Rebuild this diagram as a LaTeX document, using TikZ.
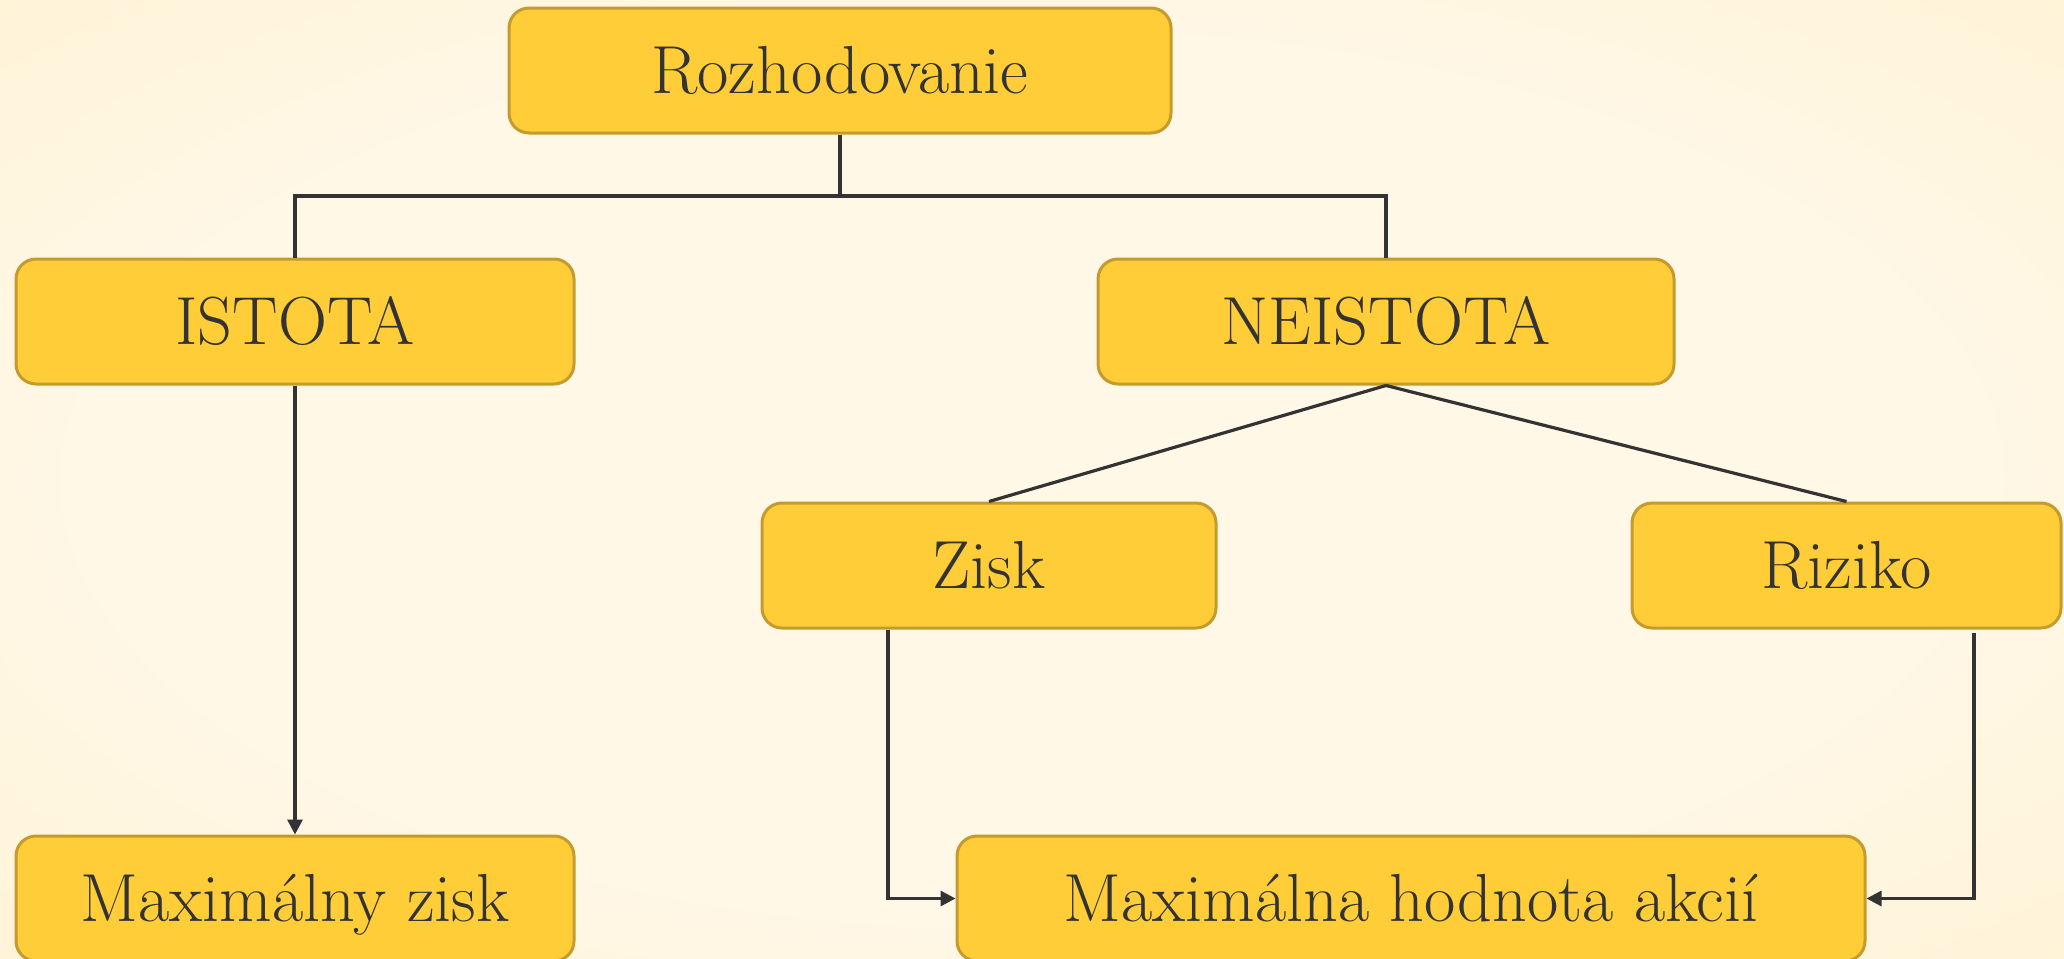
\documentclass[tikz,border=0pt]{standalone}
\usetikzlibrary{arrows.meta}
\definecolor{bgin}{HTML}{FFF8E7}
\definecolor{bgout}{HTML}{FEEFC8}
\definecolor{boxfill}{HTML}{FFCD38}
\definecolor{boxline}{HTML}{C49B2C}
\definecolor{ink}{HTML}{333333}
\pgfdeclareradialshading{bgshade}{\pgfpoint{0bp}{0bp}}{color(0bp)=(bgin); color(22bp)=(bgin); color(50bp)=(bgout)}
\tikzset{
  box/.style={draw=boxline, line width=1.5pt, fill=boxfill, rounded corners=10pt,
    minimum height=62.5pt, inner sep=0pt, text=ink,
    font=\fontsize{34}{40}\selectfont, text height=23.2pt, text depth=0pt},
  conn/.style={draw=ink, line width=1.6pt},
  arr/.style={conn, -{Triangle[length=7.5pt,width=7.5pt]}}
}
\begin{document}
\begin{tikzpicture}[x=0.5pt,y=-0.5pt]
\useasboundingbox (0,0) rectangle (2064,958);
\shade[shading=bgshade] (0,0) rectangle (2064,958);
\begin{scope}
\clip (0,0) rectangle (2064,958);
\node[box, minimum width=331pt] (R) at (840,70.5) {Rozhodovanie};
\node[box, minimum width=279pt] (I) at (295,321.5) {ISTOTA};
\node[box, minimum width=288pt] (N) at (1386,321.5) {NEISTOTA};
\node[box, minimum width=227pt] (Z) at (989,565.5) {Zisk};
\node[box, minimum width=214.5pt] (Ri) at (1846.5,565.5) {Riziko};
\node[box, minimum width=279pt] (MZ) at (295,898.5) {Maximálny zisk};
\node[box, minimum width=454pt] (MH) at (1411,898.5) {Maximálna hodnota akcií};
\end{scope}
\coordinate (bus) at (840,196);
\draw[conn] (R.south) -- (bus);
\draw[conn] (I.north) -- (I.north |- bus) -- (N.north |- bus) -- (N.north);
\draw[arr] (I.south) -- (MZ.north);
\draw[conn] (N.south) -- (Z.north);
\draw[conn] (N.south) -- (Ri.north);
\draw[arr] ([xshift=-50.5pt]Z.south) |- (MH.west);
\draw[arr] ([xshift=63.75pt,yshift=-1.5pt]Ri.south) |- (MH.east);
\end{tikzpicture}
\end{document}
